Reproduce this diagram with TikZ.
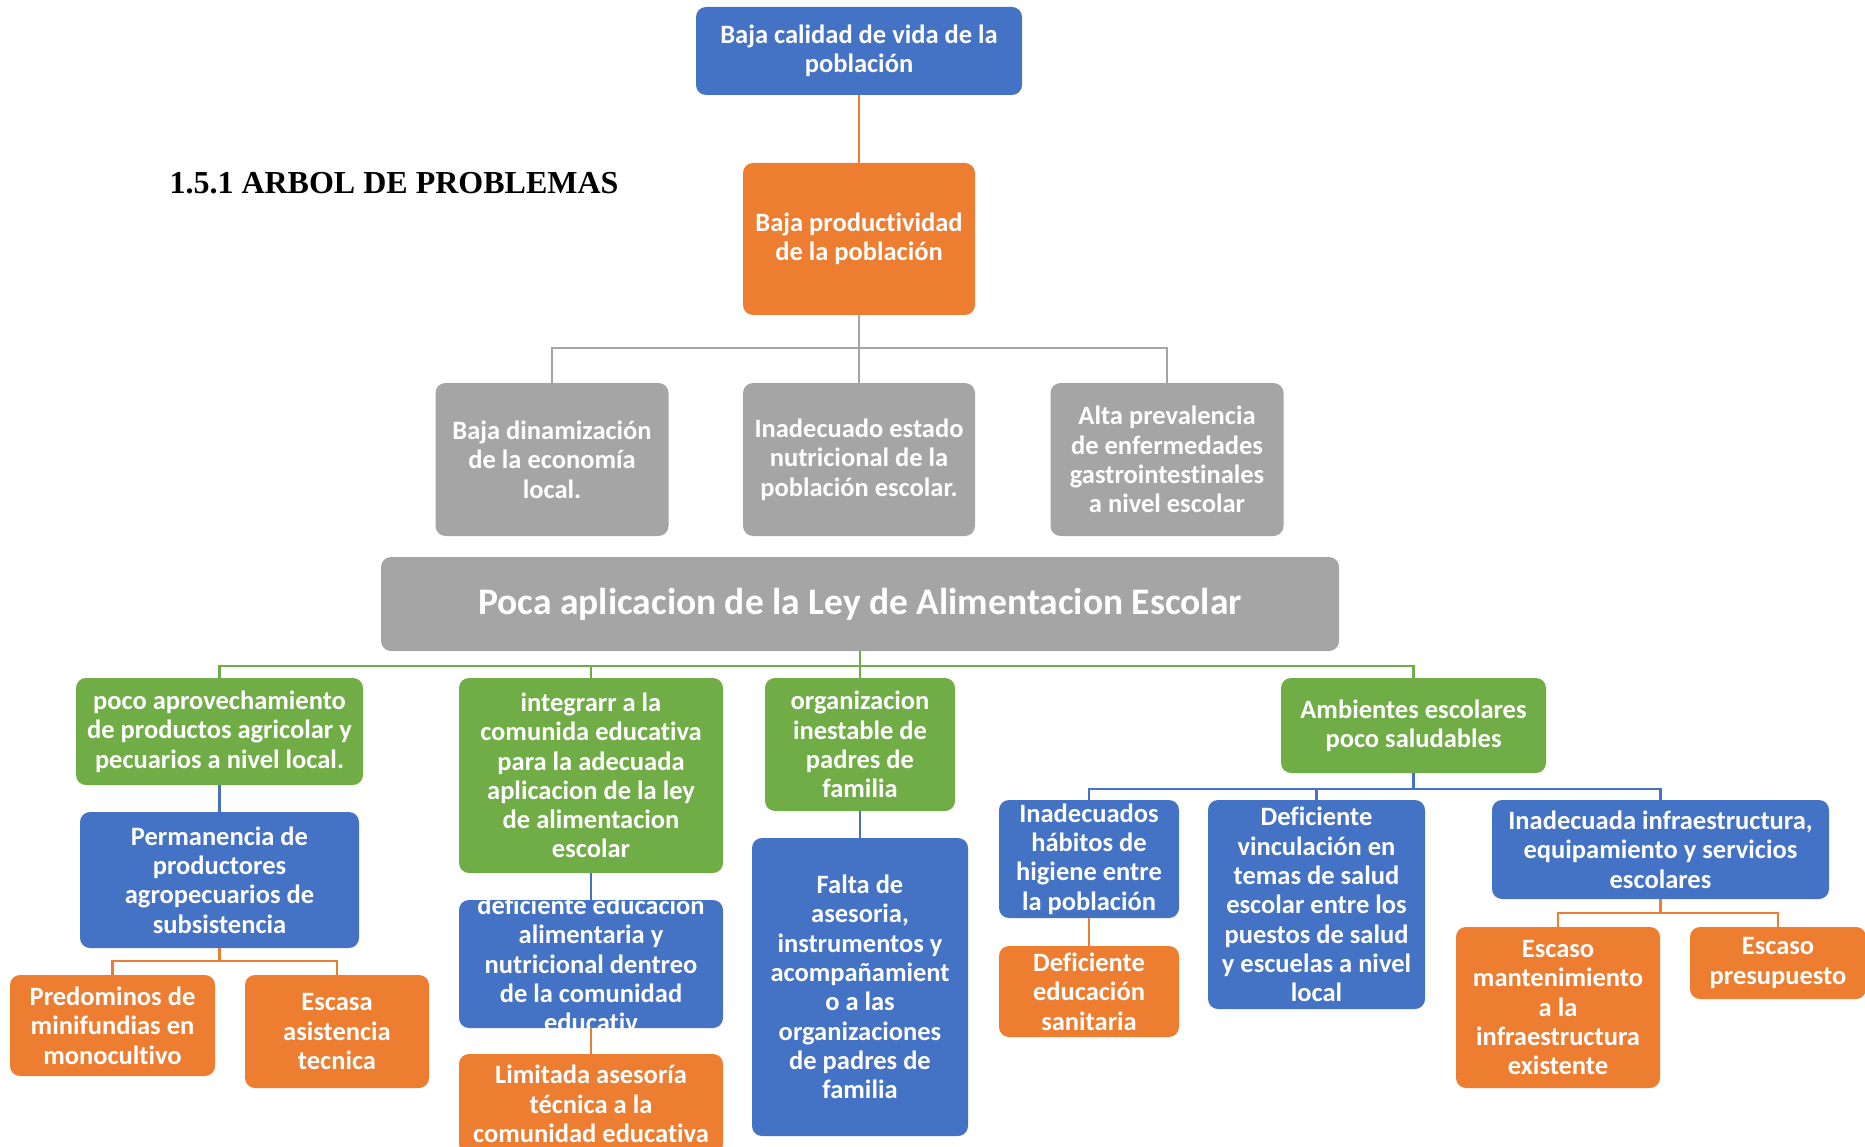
\documentclass[tikz,border=0pt]{standalone}
\usepackage{fontspec}
\setmainfont{Carlito}[Ligatures=NoCommon]
\newfontfamily\titulofont{Liberation Serif}
\usepackage{tikz}

\definecolor{azul}{HTML}{4472C4}
\definecolor{naranja}{HTML}{ED7D31}
\definecolor{gris}{HTML}{A5A5A5}
\definecolor{verde}{HTML}{70AD47}

\tikzset{
  caja/.style={rounded corners=10pt, text=white, align=center, inner sep=2pt,
    font=\bfseries\fontsize{26.5}{29.3}\selectfont},
  cajaazul/.style={caja, fill=azul},
  cajanaranja/.style={caja, fill=naranja},
  cajagris/.style={caja, fill=gris},
  cajaverde/.style={caja, fill=verde},
  linea/.style={line width=2.5pt},
}

\begin{document}
\begin{tikzpicture}[x=1pt, y=-1pt]
\useasboundingbox (0,0) rectangle (1865,1147);

% titulo
\node[anchor=west, font=\titulofont\bfseries\fontsize{32}{36}\selectfont] (titulo) at (166,183) {1.5.1 ARBOL DE PROBLEMAS};

% efectos
\node[cajaazul, minimum width=326pt, minimum height=88pt] (vida) at (859,51) {Baja calidad de vida de la\\población};
\node[cajanaranja, minimum width=232pt, minimum height=152pt] (produc) at (859,239) {Baja productividad\\de la población};
\node[cajagris, minimum width=233pt, minimum height=153pt] (econ) at (552,459.5) {Baja dinamización\\de la economía\\local.};
\node[cajagris, minimum width=232pt, minimum height=153pt] (nutri) at (859,459.5) {Inadecuado estado\\nutricional de la\\población escolar.};
\node[cajagris, minimum width=233pt, minimum height=153pt] (enferm) at (1167,459.5) {Alta prevalencia\\de enfermedades\\gastrointestinales\\a nivel escolar};

% problema central
\node[cajagris, minimum width=958pt, minimum height=94pt, font=\bfseries\fontsize{37.5}{42}\selectfont] (ley) at (860,604) {Poca aplicacion de la Ley de Alimentacion Escolar};

% causas
\node[cajaverde, minimum width=287pt, minimum height=107pt] (aprov) at (219.5,731.5) {poco aprovechamiento\\de productos agricolar y\\pecuarios a nivel local.};
\node[cajaverde, minimum width=264pt, minimum height=195pt] (integrar) at (591,775.5) {integrarr a la\\comunida educativa\\para la adecuada\\aplicacion de la ley\\de alimentacion\\escolar};
\node[cajaverde, minimum width=190pt, minimum height=133pt] (organiz) at (860,744.5) {organizacion\\inestable de\\padres de\\familia};
\node[cajaverde, minimum width=265pt, minimum height=95pt] (ambient) at (1413.5,725.5) {Ambientes escolares\\poco saludables};

\node[cajaazul, minimum width=279pt, minimum height=136pt] (perman) at (219.5,880) {Permanencia de\\productores\\agropecuarios de\\subsistencia};
\node[cajaazul, minimum width=264pt, minimum height=128pt,
  path picture={\node[caja] at (path picture bounding box.center) {deficiente educacion\\alimentaria y\\nutricional dentreo\\de la comunidad\\educativ};}] (educ) at (591,964) {};
\node[cajaazul, minimum width=216pt, minimum height=298pt] (asesor) at (860,987) {Falta de\\asesoria,\\instrumentos y\\acompañamient\\o a las\\organizaciones\\de padres de\\familia};
\node[cajaazul, minimum width=180pt, minimum height=118pt] (habitos) at (1089,859) {Inadecuados\\hábitos de\\higiene entre\\la población};
\node[cajaazul, minimum width=217pt, minimum height=209pt] (vincul) at (1316.5,904.5) {Deficiente\\vinculación en\\temas de salud\\escolar entre los\\puestos de salud\\y escuelas a nivel\\local};
\node[cajaazul, minimum width=337pt, minimum height=99pt] (infra) at (1660.5,849.5) {Inadecuada infraestructura,\\equipamiento y servicios\\escolares};

\node[cajanaranja, minimum width=205pt, minimum height=101pt] (minif) at (112.5,1025.5) {Predominos de\\minifundias en\\monocultivo};
\node[cajanaranja, minimum width=184pt, minimum height=113pt] (asist) at (337,1031.5) {Escasa\\asistencia\\tecnica};
\node[cajanaranja, minimum width=264pt, minimum height=100pt] (limit) at (591,1104) {Limitada asesoría\\técnica a la\\comunidad educativa};
\node[cajanaranja, minimum width=180pt, minimum height=91pt] (sanit) at (1089,991.5) {Deficiente\\educación\\sanitaria};
\node[cajanaranja, minimum width=204pt, minimum height=161pt] (mant) at (1558,1007.5) {Escaso\\mantenimiento\\a la\\infraestructura\\existente};
\node[cajanaranja, minimum width=176pt, minimum height=72pt] (presup) at (1778,963) {Escaso\\presupuesto};

% conectores
\draw[linea, naranja] (vida) -- (produc);
\draw[linea, gris] (produc) -- (nutri);
\draw[linea, gris] (produc.south) -- ++(0,33) -| (econ.north);
\draw[linea, gris] (produc.south) -- ++(0,33) -| (enferm.north);

\draw[linea, verde] (ley) -- (organiz);
\draw[linea, verde] (ley.south) -- ++(0,15) -| (aprov.north);
\draw[linea, verde] (ley.south) -- ++(0,15) -| (integrar.north);
\draw[linea, verde] (ley.south) -- ++(0,15) -| (ambient.north);

\draw[linea, azul] (aprov) -- (perman);
\draw[linea, naranja] (perman.south) -- ++(0,13) -| (minif.north);
\draw[linea, naranja] (perman.south) -- ++(0,13) -| (asist.north);

\draw[linea, azul] (integrar) -- (educ);
\draw[linea, naranja] (educ) -- (limit);
\draw[linea, azul] (organiz) -- (asesor);

\draw[linea, azul] (ambient.south) -- ++(0,16) -| (habitos.north);
\draw[linea, azul] (ambient.south) -- ++(0,16) -| (vincul.north);
\draw[linea, azul] (ambient.south) -- ++(0,16) -| (infra.north);
\draw[linea, naranja] (habitos) -- (sanit);
\draw[linea, naranja] (infra.south) -- ++(0,14) -| (mant.north);
\draw[linea, naranja] (infra.south) -- ++(0,14) -| (presup.north);
\end{tikzpicture}
\end{document}
